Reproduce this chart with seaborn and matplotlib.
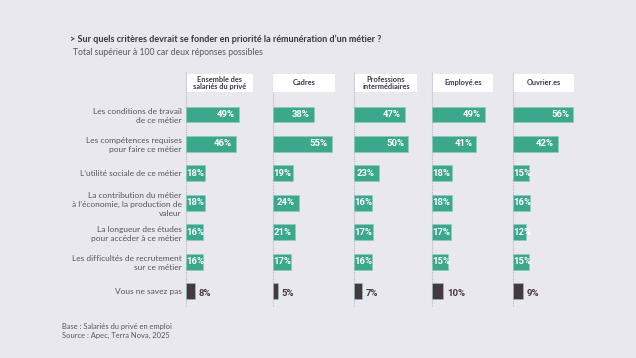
import matplotlib
matplotlib.use("Agg")
import matplotlib.pyplot as plt
import seaborn as sns
import pandas as pd
from matplotlib.patches import Rectangle

categories = [
    "Les conditions de travail\nde ce métier",
    "Les compétences requises\npour faire ce métier",
    "L’utilité sociale de ce métier",
    "La contribution du métier\nà l’économie, la production de\nvaleur",
    "La longueur des études\npour accéder à ce métier",
    "Les difficultés de recrutement\nsur ce métier",
    "Vous ne savez pas",
]
kinds = ["crit", "crit", "crit", "crit", "crit", "crit", "nsp"]
groups = ["Ensemble des\nsalariés du privé", "Cadres", "Professions\nintermédiaires",
          "Employé.es", "Ouvrier.es"]
ensemble = [49, 46, 18, 18, 16, 16, 8]
cadres = [38, 55, 19, 24, 21, 17, 5]
professions = [47, 50, 23, 16, 17, 16, 7]
employes = [49, 41, 18, 18, 17, 15, 10]
ouvriers = [56, 42, 15, 16, 12, 15, 9]
series = [ensemble, cadres, professions, employes, ouvriers]

title = "> Sur quels critères devrait se fonder en priorité la rémunération d’un métier ?"
subtitle = "Total supérieur à 100 car deux réponses possibles"
footer = "Base : Salariés du privé en emploi\nSource : Apec, Terra Nova, 2025"

BG = "#e9e8ee"
GREEN = "#3ba88c"
DARK = "#45383e"
TXT = "#5a5362"
HEAD = "#3c3440"
LINE = "#b4b9cb"

sns.set_theme(style="white")
plt.rcParams["font.family"] = ["Lato", "DejaVu Sans"]

W, H = 636, 358
fig = plt.figure(figsize=(W / 100, H / 100), dpi=100)
fig.patch.set_facecolor(BG)

def fx(px):
    return px / W

def fy(py):
    return 1 - py / H

panel_left = [186, 272.7, 354.3, 432.3, 513]
box_w = [66, 62, 62, 60, 60]
ax_w = 76
scale = 1.078  # px per %
top_px, bot_px = 99.8, 306.0

for i, vals in enumerate(series):
    L = panel_left[i]
    ax = fig.add_axes([fx(L), fy(bot_px), fx(ax_w), (bot_px - top_px) / H])
    ax.set_facecolor("none")
    df = pd.DataFrame({"cat": categories, "val": vals, "kind": kinds})
    sns.barplot(data=df, x="val", y="cat", hue="kind",
                palette={"crit": GREEN, "nsp": DARK}, dodge=False,
                width=0.54, ax=ax, legend=False, saturation=1,
                linewidth=0.4, edgecolor="#8ccdbb")
    ax.set_xlim(0, ax_w / scale)
    for s in ax.spines.values():
        s.set_visible(False)
    ax.set_xticks([])
    ax.set_xlabel("")
    ax.set_ylabel("")
    ax.tick_params(axis="y", length=0, pad=3.2)
    if i == 0:
        ax.set_yticks(range(len(categories)))
        ax.set_yticklabels(categories, fontsize=6.0, color=TXT, linespacing=1.3)
    else:
        ax.set_yticklabels([])
    ymax = (bot_px - 72) / (bot_px - top_px)
    ax.axvline(0, ymin=0, ymax=ymax, color=LINE, lw=0.8, ls=(0, (1, 1)),
               clip_on=False, zorder=0)
    for j, (v, k) in enumerate(zip(vals, kinds)):
        if k == "nsp":
            ax.text(v + 3.5, j + 0.08, f"{v}%", ha="left", va="center",
                    fontsize=6.8, fontweight="bold", color=DARK, family="Roboto")
        else:
            if v - 3.5 < 16.5:
                ax.text(0.3, j, f"{v}%", ha="left", va="center", fontsize=6.8,
                        fontweight="bold", color="white", family="Roboto")
            else:
                ax.text(v - 3.8, j, f"{v}%", ha="right", va="center", fontsize=6.8,
                        fontweight="bold", color="white", family="Roboto")
    # header box
    bx = L + 0.7
    fig.add_artist(Rectangle((fx(bx), fy(91.7)), fx(box_w[i]), (91.7 - 74) / H,
                             transform=fig.transFigure, facecolor="white",
                             edgecolor="none", zorder=2))
    fig.text(fx(bx + box_w[i] / 2), fy(82.9), groups[i], ha="center", va="center",
             fontsize=5.3, fontweight="bold", color=HEAD, linespacing=1.1, zorder=3)

fig.text(fx(70), fy(39.5), title, ha="left", va="center", fontsize=6.5,
         fontweight="bold", color=HEAD)
fig.text(fx(73), fy(52.5), subtitle, ha="left", va="center", fontsize=6.2,
         color=TXT)
fig.text(fx(62), fy(331), footer, ha="left", va="center", fontsize=5.4,
         color=TXT, linespacing=1.35)

fig.savefig("out.png", dpi=100, facecolor=BG)
